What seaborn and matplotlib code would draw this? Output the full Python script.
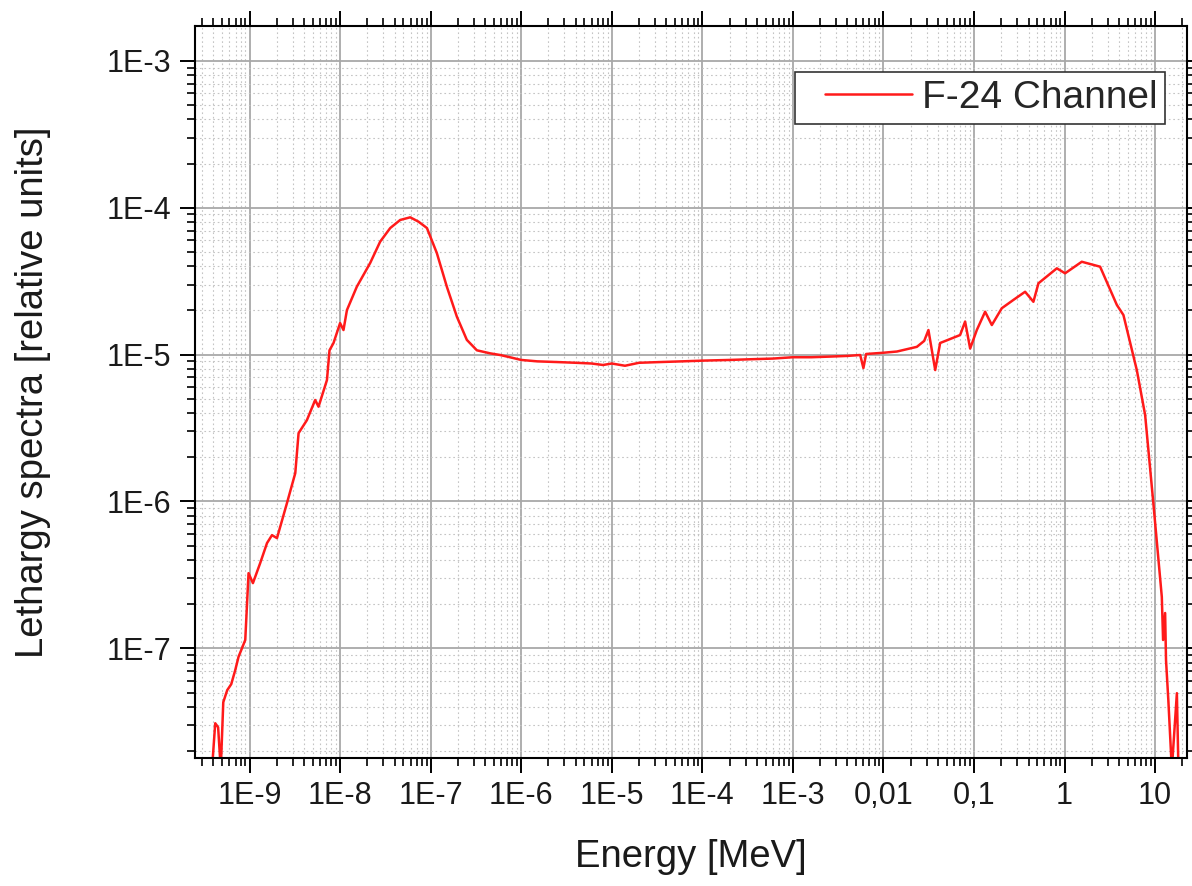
import numpy as np
import pandas as pd
import matplotlib
matplotlib.use("Agg")
import matplotlib.pyplot as plt
import seaborn as sns
from matplotlib.ticker import FixedLocator, FixedFormatter, LogLocator, NullFormatter
from matplotlib.legend_handler import HandlerLine2D
from matplotlib.lines import Line2D

# ---- data ----
energy_mev = [
    3.85e-10, 4.18e-10, 4.5e-10, 4.81e-10, 5.13e-10, 5.67e-10, 6.28e-10, 6.95e-10, 7.56e-10,
    8.97e-10, 9.75e-10, 1.09e-9, 1.31e-9, 1.56e-9, 1.77e-9, 2.01e-9, 2.59e-9, 3.20e-9,
    3.48e-9, 4.30e-9, 5.31e-9, 5.78e-9, 7.16e-9, 7.64e-9, 8.46e-9, 1.00e-8, 1.09e-8,
    1.19e-8, 1.53e-8, 2.15e-8, 2.77e-8, 3.58e-8, 4.61e-8, 5.95e-8, 7.35e-8, 9.10e-8,
    1.17e-7, 1.51e-7, 1.95e-7, 2.51e-7, 3.24e-7, 4.55e-7, 5.86e-7, 7.5e-7, 1.0e-6,
    1.5e-6, 2.5e-6, 4.0e-6, 6.0e-6, 8.0e-6, 1.0e-5, 1.4e-5, 2.0e-5, 3.4e-5, 6.0e-5,
    1.0e-4, 2.0e-4, 3.4e-4, 6.0e-4, 1.0e-3, 1.6e-3, 2.6e-3, 4.0e-3, 5.54e-3, 6.01e-3,
    6.44e-3, 1.0e-2, 1.41e-2, 2.34e-2, 2.82e-2, 3.14e-2, 3.73e-2, 4.23e-2, 5.5e-2,
    7.03e-2, 7.98e-2, 9.07e-2, 0.1074, 0.1327, 0.1574, 0.2028, 0.273, 0.367, 0.453,
    0.515, 0.822, 1.014, 1.55, 2.47, 3.78, 4.47, 6.28, 7.76, 9.57, 11.86, 12.25,
    12.9, 13.2, 14.0, 15.3, 17.4, 18.1,
]
lethargy_flux = [
    1.5e-8, 3.09e-8, 2.9e-8, 1.5e-8, 4.30e-8, 5.19e-8, 5.70e-8, 7.10e-8, 8.75e-8,
    1.14e-7, 3.25e-7, 2.78e-7, 3.80e-7, 5.21e-7, 5.90e-7, 5.63e-7, 9.75e-7, 1.56e-6,
    2.92e-6, 3.58e-6, 4.91e-6, 4.42e-6, 6.71e-6, 1.07e-5, 1.20e-5, 1.64e-5, 1.47e-5,
    2.01e-5, 2.90e-5, 4.21e-5, 5.88e-5, 7.28e-5, 8.26e-5, 8.61e-5, 8.04e-5, 7.28e-5,
    4.92e-5, 2.90e-5, 1.81e-5, 1.26e-5, 1.07e-5, 1.02e-5, 9.94e-6, 9.6e-6, 9.2e-6,
    9.0e-6, 8.9e-6, 8.8e-6, 8.7e-6, 8.5e-6, 8.7e-6, 8.4e-6, 8.8e-6, 8.9e-6, 9.0e-6,
    9.1e-6, 9.2e-6, 9.3e-6, 9.4e-6, 9.6e-6, 9.6e-6, 9.7e-6, 9.8e-6, 9.94e-6, 8.1e-6,
    1.01e-5, 1.03e-5, 1.05e-5, 1.13e-5, 1.24e-5, 1.47e-5, 7.85e-6, 1.20e-5, 1.28e-5,
    1.36e-5, 1.68e-5, 1.10e-5, 1.47e-5, 1.96e-5, 1.59e-5, 2.07e-5, 2.36e-5, 2.68e-5, 2.29e-5,
    3.06e-5, 3.87e-5, 3.58e-5, 4.29e-5, 3.97e-5, 2.18e-5, 1.86e-5, 7.85e-6, 3.88e-6,
    9.70e-7, 2.24e-7, 1.14e-7, 1.74e-7, 8.31e-8, 4.44e-8, 1.5e-8, 4.95e-8, 1.5e-8,
]
series_name = "F-24 Channel"

x_tick_values = [1e-9, 1e-8, 1e-7, 1e-6, 1e-5, 1e-4, 1e-3, 1e-2, 1e-1, 1, 10]
x_tick_labels = ["1E-9", "1E-8", "1E-7", "1E-6", "1E-5", "1E-4", "1E-3", "0,01", "0,1", "1", "10"]
y_tick_values = [1e-7, 1e-6, 1e-5, 1e-4, 1e-3]
y_tick_labels = ["1E-7", "1E-6", "1E-5", "1E-4", "1E-3"]

df = pd.DataFrame({"Energy": energy_mev, "Flux": lethargy_flux, "Series": series_name})

sns.set_theme(style="white")
plt.rcParams["font.family"] = ["Liberation Sans", "DejaVu Sans"]

fig = plt.figure(figsize=(11.92, 8.86), dpi=100)
ax = fig.add_axes([0.1636, 0.1448, 0.8322, 0.8259])

sns.lineplot(data=df, x="Energy", y="Flux", hue="Series", palette=["#ff1a1a"],
             estimator=None, sort=False, linewidth=1.8, ax=ax)

ax.set_xscale("log")
ax.set_yscale("log")
ax.set_xlim(2.5e-10, 22.5)
ax.set_ylim(1.8e-8, 1.73e-3)

ax.xaxis.set_major_locator(FixedLocator(x_tick_values))
ax.xaxis.set_major_formatter(FixedFormatter(x_tick_labels))
ax.yaxis.set_major_locator(FixedLocator(y_tick_values))
ax.yaxis.set_major_formatter(FixedFormatter(y_tick_labels))
ax.xaxis.set_minor_locator(LogLocator(base=10, subs=np.arange(2, 10), numticks=40))
ax.yaxis.set_minor_locator(LogLocator(base=10, subs=np.arange(2, 10), numticks=40))
ax.xaxis.set_minor_formatter(NullFormatter())
ax.yaxis.set_minor_formatter(NullFormatter())

ax.grid(True, which="major", color="#a8a8a8", linewidth=1.3, linestyle="-")
ax.grid(True, which="minor", color="#c4c4c4", linewidth=0.8, linestyle=(0, (1.5, 2.5)))
ax.set_axisbelow(True)

ax.tick_params(which="major", direction="out", length=11, width=1.4, color="black",
               labelsize=22, pad=6, top=True, right=True, bottom=True, left=True,
               labeltop=False, labelright=False)
ax.tick_params(which="minor", direction="out", length=5.5, width=1.2, color="black",
               top=True, right=True, bottom=True, left=True)
for s in ax.spines.values():
    s.set_visible(True)
    s.set_color("black")
    s.set_linewidth(1.5)

ax.set_xlabel("Energy [MeV]", fontsize=27.5, labelpad=20, color="#1a1a1a")
ax.set_ylabel("Lethargy spectra [relative units]", fontsize=27.5, labelpad=40, color="#1a1a1a")
for lab in ax.get_xticklabels() + ax.get_yticklabels():
    lab.set_color("#1a1a1a")

handles, labels = ax.get_legend_handles_labels()
leg = ax.legend(handles, labels, loc="upper right", bbox_to_anchor=(0.978, 0.937), fontsize=28,
                frameon=True, fancybox=False, framealpha=1, edgecolor="#333333",
                handlelength=2.8, handletextpad=0.25, borderpad=0.2, borderaxespad=0,
                handler_map={Line2D: HandlerLine2D(xpad=0.55)})
leg.get_frame().set_linewidth(1.2)
for line in leg.get_lines():
    line.set_linewidth(1.8)

fig.savefig("out.png", dpi=100)
